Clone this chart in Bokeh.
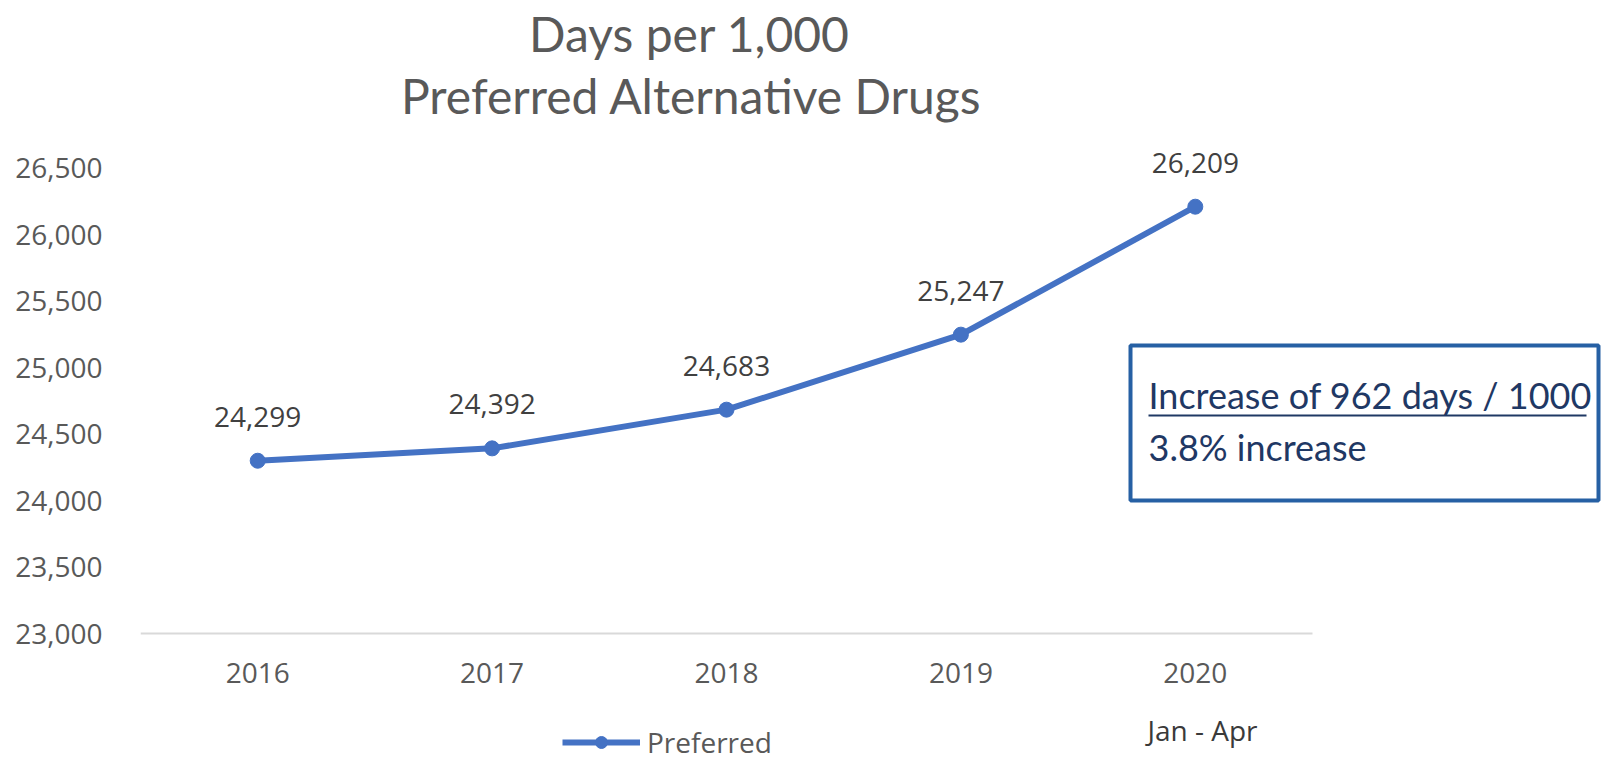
from bokeh.plotting import figure
from bokeh.models import (ColumnDataSource, Range1d, FixedTicker, NumeralTickFormatter,
                          Label, LabelSet, BoxAnnotation, Legend, LegendItem)
from bokeh.core.properties import value
from bokeh.embed import file_html
from bokeh.resources import INLINE

# ---- data ----
years = ["2016", "2017", "2018", "2019", "2020"]
preferred = [24299, 24392, 24683, 25247, 26209]
value_labels = ["24,299", "24,392", "24,683", "25,247", "26,209"]
y_ticks = [23000, 23500, 24000, 24500, 25000, 25500, 26000, 26500]
title_lines = ["Days per 1,000", "Preferred Alternative Drugs"]
note_lines = ["Increase of 962 days / 1000", "3.8% increase"]
period_note = "Jan - Apr"
series_name = "Preferred"

# ---- layout (pixels) ----
W, H = 1604, 762
PL, PR, PT, PB = 140, 1312, 167.5, 633   # plot area of the original chart

BLUE = "#4472C4"
TICK_FONT = "Open Sans"
TITLE_FONT = "Lato"

n = len(years)
xpos = [i + 0.5 for i in range(n)]            # category centres
cat_w = (PR - PL) / n
k = (PB - PT) / (y_ticks[-1] - y_ticks[0])

src = ColumnDataSource(dict(x=xpos, y=preferred, lab=value_labels))

p = figure(width=W, height=H,
           x_range=Range1d(0, (W - PL) / cat_w),
           y_range=Range1d(y_ticks[0] - (H - PB) / k, y_ticks[-1] + PT / k),
           output_backend="svg", toolbar_location=None,
           min_border_left=PL, min_border_right=0, min_border_top=0, min_border_bottom=0)
p.outline_line_color = None
p.xgrid.visible = False
p.ygrid.visible = False
p.background_fill_color = "white"
p.border_fill_color = "white"

# y axis
p.yaxis.ticker = FixedTicker(ticks=y_ticks)
p.yaxis.formatter = NumeralTickFormatter(format="0,0")
p.yaxis.axis_line_color = None
p.yaxis.major_tick_line_color = None
p.yaxis.minor_tick_line_color = None
p.yaxis.major_tick_out = 0
p.yaxis.major_tick_in = 0
p.yaxis.major_label_standoff = 38
p.yaxis.major_label_text_font = TICK_FONT
p.yaxis.major_label_text_font_size = "28px"
p.yaxis.major_label_text_color = "#595959"

# x axis, drawn at the 23,000 baseline
xa = p.xaxis[0]
xa.fixed_location = y_ticks[0]
xa.bounds = (0, n)
xa.ticker = FixedTicker(ticks=xpos)
xa.major_label_overrides = {x: yr for x, yr in zip(xpos, years)}
xa.axis_line_color = "#D9D9D9"
xa.axis_line_width = 2
xa.major_tick_line_color = None
xa.minor_tick_line_color = None
xa.major_tick_out = 0
xa.major_tick_in = 0
xa.major_label_standoff = 29
xa.major_label_text_font = TICK_FONT
xa.major_label_text_font_size = "28px"
xa.major_label_text_color = "#595959"

line_r = p.line("x", "y", source=src, line_color=BLUE, line_width=6)
dot_r = p.scatter("x", "y", source=src, size=15, fill_color=BLUE, line_color=BLUE)

p.add_layout(LabelSet(x="x", y="y", text="lab", source=src, y_offset=34,
                      text_align="center", text_baseline="alphabetic",
                      text_font=value(TICK_FONT), text_font_size=value("28px"),
                      text_color="#404040"))


def sx(X):
    return X - PL


def sy(Y):
    return H - Y


def add_label(X, Y, text, font, size, color, align="left"):
    p.add_layout(Label(x=sx(X), y=sy(Y), x_units="screen", y_units="screen", text=text,
                       text_align=align, text_baseline="alphabetic",
                       text_font=font, text_font_size=size, text_color=color))


# titles
add_label(689, 33, title_lines[0], TITLE_FONT, "48px", "#595959", "center")
add_label(691, 95, title_lines[1], TITLE_FONT, "48px", "#595959", "center")

# period note under 2020
add_label(1202, 729, period_note, TICK_FONT, "28px", "#3A3A3A", "center")

# annotation box
p.add_layout(BoxAnnotation(left=sx(1130), right=sx(1598), top=sy(345), bottom=sy(500),
                           left_units="screen", right_units="screen",
                           top_units="screen", bottom_units="screen",
                           fill_color="white", fill_alpha=1.0,
                           line_color="#2660A4", line_width=4, line_alpha=1.0))
p.add_layout(BoxAnnotation(left=sx(1148), right=sx(1586), top=sy(414), bottom=sy(416),
                           left_units="screen", right_units="screen",
                           top_units="screen", bottom_units="screen",
                           fill_color="#1F3864", fill_alpha=1.0, line_color=None))
add_label(1148, 394, note_lines[0], TITLE_FONT, "36px", "#1F3864")
add_label(1148, 446, note_lines[1], TITLE_FONT, "36px", "#1F3864")

# legend
legend = Legend(items=[LegendItem(label=series_name, renderers=[line_r, dot_r])],
                location=(sx(562), sy(761)), orientation="horizontal",
                glyph_width=78, glyph_height=30, label_height=30, label_standoff=7,
                padding=0, margin=0, border_line_color=None, background_fill_alpha=0,
                label_text_font=TICK_FONT, label_text_font_size="28px",
                label_text_color="#595959")
p.add_layout(legend, "center")

open("out.html", "w").write(file_html(p, INLINE))
